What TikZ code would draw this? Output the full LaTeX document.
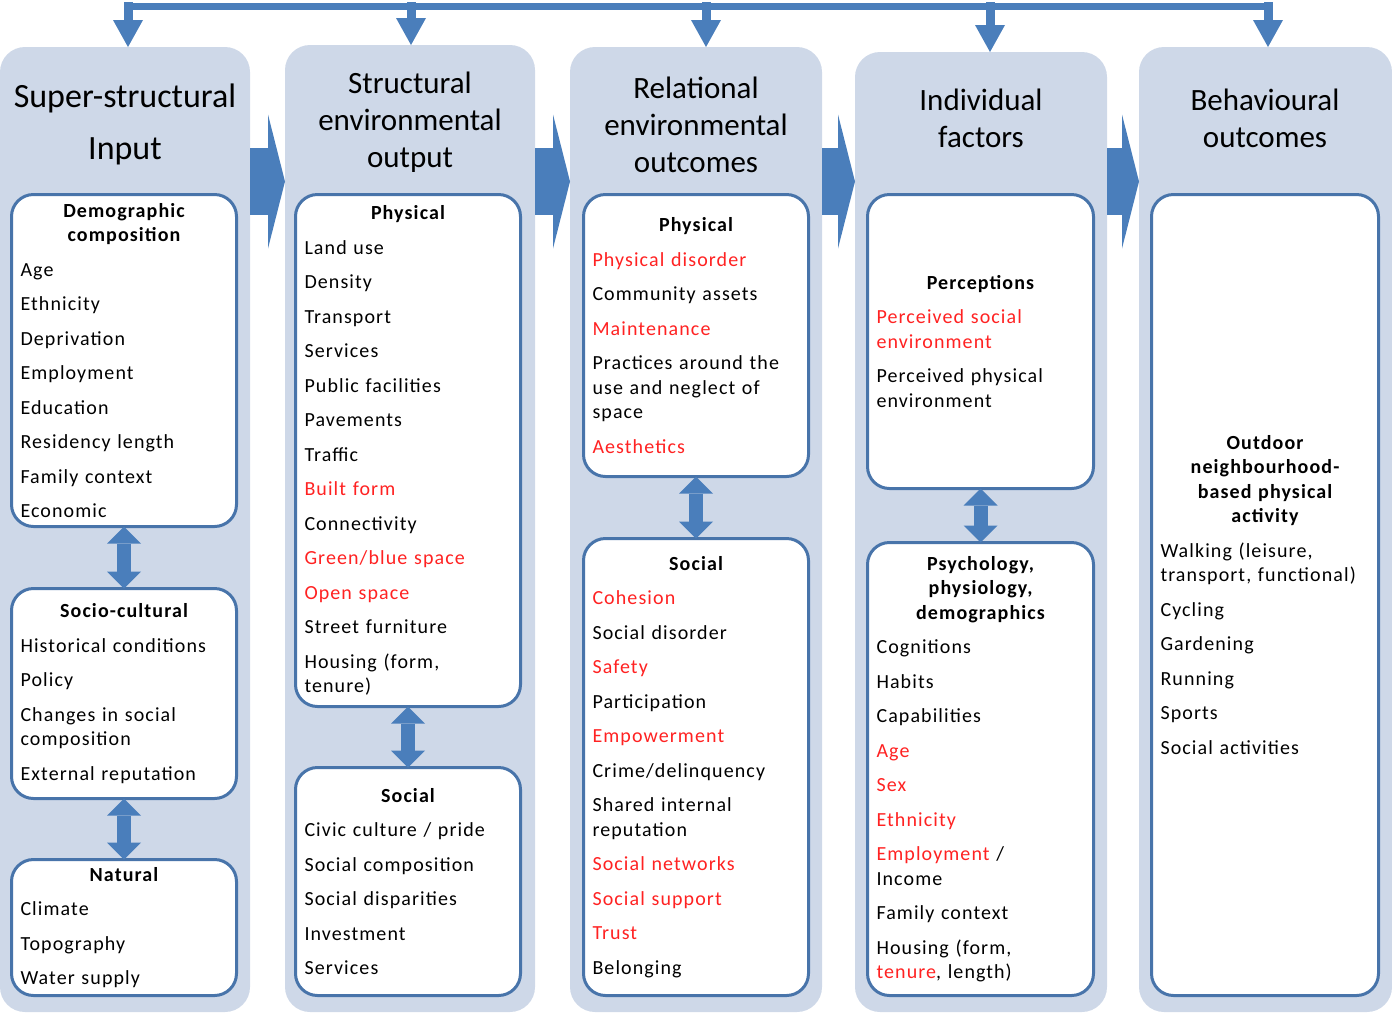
\documentclass[tikz,border=0pt]{standalone}
\usepackage{fontspec}
\setmainfont{Carlito}
\newfontfamily\bodyfont{Carlito}[LetterSpace=5.5]
\usetikzlibrary{arrows.meta, positioning}
\usepackage{xcolor}
\definecolor{FlowBlue}{HTML}{4A7EBB}
\definecolor{PanelBlue}{HTML}{CED8E8}
\definecolor{BoxLine}{HTML}{4874AA}
\definecolor{FactorRed}{HTML}{FF2222}
\newcommand{\rd}[1]{\textcolor{FactorRed}{#1}}
\newcommand{\hd}[1]{{\centering\bfseries #1\par}}

\begin{document}
\begin{tikzpicture}[x=1pt, y=-1pt,
    panel/.style={fill=PanelBlue, rounded corners=25pt, inner sep=0pt, outer sep=0pt},
    title/.style={align=center, font=\fontsize{31}{37}\selectfont, inner sep=0pt},
    box/.style={draw=BoxLine, line width=3pt, fill=white, rounded corners=22pt,
        inner xsep=9pt, inner ysep=0pt, outer sep=0pt, text width=207pt, minimum width=225pt,
        align=left, font=\bodyfont\fontsize{20}{24.5}\selectfont,
        execute at begin node={\setlength{\parskip}{10pt}\setlength{\parindent}{0pt}}},
    flow/.style={draw=FlowBlue, line width=67pt, -{Triangle[width=134pt, length=17pt, line width=0pt]}},
    drop/.style={draw=FlowBlue, line width=9pt, line cap=rect, -{Triangle[width=30pt, length=27pt, line width=0pt]}},
    dbl/.style={draw=FlowBlue, line width=14pt, {Triangle[width=34pt, length=17pt, line width=0pt]}-{Triangle[width=34pt, length=17pt, line width=0pt]}}]
    \useasboundingbox (0,0) rectangle (1392,1013);

    % Columns
    \node[panel, minimum width=250pt, minimum height=965pt] (c1) at (125,529.5) {};
    \node[panel, minimum width=250pt, minimum height=967pt] (c2) at (410,528.5) {};
    \node[panel, minimum width=252pt, minimum height=965pt] (c3) at (696,529.5) {};
    \node[panel, minimum width=252pt, minimum height=960pt] (c4) at (981,532) {};
    \node[panel, minimum width=253pt, minimum height=965pt] (c5) at (1265.5,529.5) {};

    % Titles
    \node[title, font=\fontsize{34}{52}\selectfont] (h1) at (125,124) {Super-structural\\Input};
    \node[title] (h2) at (410,122) {Structural\\environmental\\output};
    \node[title] (h3) at (696,125) {Relational\\environmental\\outcomes};
    \node[title] (h4) at (981,118) {Individual\\factors};
    \node[title] (h5) at (1265,118) {Behavioural\\outcomes};

    % Top feedback line
    \coordinate (b1) at (128,6.5);
    \coordinate (b2) at (411,6.5);
    \coordinate (b3) at (706,6.5);
    \coordinate (b4) at (990,6.5);
    \coordinate (b5) at (1268,6.5);
    \draw[FlowBlue, line width=7pt] (b1) -- (b5);
    \draw[drop] (b1) -- (b1 |- c1.north);
    \draw[drop] (b2) -- (b2 |- c2.north);
    \draw[drop] (b3) -- (b3 |- c3.north);
    \draw[drop] (b4) -- (b4 |- c4.north);
    \draw[drop] (b5) -- (b5 |- c5.north);

    % Flow between columns
    \coordinate (row) at (0,181.5);
    \draw[flow] (c1.east |- row) -- (c2.west |- row);
    \draw[flow] (c2.east |- row) -- (c3.west |- row);
    \draw[flow] (c3.east |- row) -- (c4.west |- row);
    \draw[flow] (c4.east |- row) -- (c5.west |- row);

    % Super-structural input
    \node[box, minimum height=332pt] (demo) at (124,360.5) {\hd{Demographic\\composition}
        Age\par Ethnicity\par Deprivation\par Employment\par Education\par
        Residency length\par Family context\par Economic};
    \node[box, minimum height=210pt] (socio) at (124,693.5) {\hd{Socio-cultural}
        Historical conditions\par Policy\par Changes in social\\composition\par
        External reputation};
    \node[box, minimum height=136pt] (natur) at (124,927.5) {\hd{Natural}
        Climate\par Topography\par Water supply};

    % Structural environmental output
    \node[box, minimum height=512pt] (sphys) at (408,450.5) {\hd{Physical}
        Land use\par Density\par Transport\par Services\par Public facilities\par
        Pavements\par Traffic\par \rd{Built form}\par Connectivity\par
        \rd{Green/blue space}\par \rd{Open space}\par Street furniture\par
        Housing (form,\\tenure)};
    \node[box, minimum height=228pt] (ssoc) at (408,881.5) {\hd{Social}
        Civic culture / pride\par Social composition\par Social disparities\par
        Investment\par Services};

    % Relational environmental outcomes
    \node[box, minimum height=282pt] (rphys) at (696,335.5) {\hd{Physical}
        \rd{Physical disorder}\par Community assets\par \rd{Maintenance}\par
        Practices around the\\use and neglect of\\space\par \rd{Aesthetics}};
    \node[box, minimum height=457pt] (rsoc) at (696,767) {\hd{Social}
        \rd{Cohesion}\par Social disorder\par \rd{Safety}\par Participation\par
        \rd{Empowerment}\par Crime/delinquency\par Shared internal\\reputation\par
        \rd{Social networks}\par \rd{Social support}\par \rd{Trust}\par Belonging};

    % Individual factors
    \node[box, minimum height=294pt, minimum width=226pt, text width=208pt] (perc) at (980.5,341.5) {\hd{Perceptions}
        \rd{Perceived social}\\\rd{environment}\par Perceived physical\\environment};
    \node[box, minimum height=453pt, minimum width=226pt, text width=208pt] (psych) at (980.5,769) {\hd{Psychology,\\physiology,\\demographics}
        Cognitions\par Habits\par Capabilities\par \rd{Age}\par \rd{Sex}\par
        \rd{Ethnicity}\par \rd{Employment} /\\Income\par Family context\par
        Housing (form,\\\rd{tenure}, length)};

    % Behavioural outcomes
    \node[box, minimum height=801pt, minimum width=227pt, text width=209pt] (behav) at (1265,595) {\hd{Outdoor\\neighbourhood-\\based physical\\activity}
        Walking (leisure,\\transport, functional)\par Cycling\par Gardening\par
        Running\par Sports\par Social activities};

    % Links inside columns
    \draw[dbl] (demo.south) -- (socio.north);
    \draw[dbl] (socio.south) -- (natur.north);
    \draw[dbl] (sphys.south) -- (ssoc.north);
    \draw[dbl] (rphys.south) -- (rsoc.north);
    \draw[dbl] (perc.south) -- (psych.north);
\end{tikzpicture}
\end{document}
